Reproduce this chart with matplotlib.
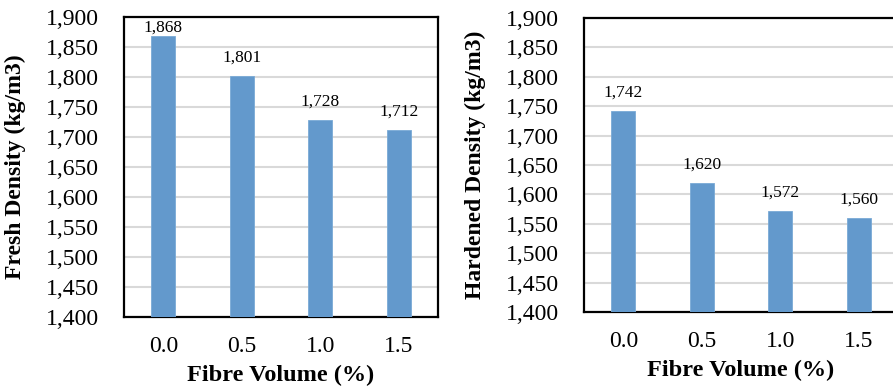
import matplotlib.pyplot as plt
import numpy as np

plt.rcParams['font.family'] = ['Liberation Serif', 'DejaVu Serif']

fibre_volume = ['0.0', '0.5', '1.0', '1.5']
fresh_density = [1868, 1801, 1728, 1712]
hardened_density = [1742, 1620, 1572, 1560]
y_ticks = list(range(1400, 1901, 50))

bar_color = '#6399cc'
grid_color = '#d9d9d9'

W, H = 893, 390
fig = plt.figure(figsize=(W / 100, H / 100), dpi=100)

# axes boxes in pixel units: left, top, right, bottom
boxes = [(124, 17, 438, 317), (584, 18, 898, 312)]
panels = [(fresh_density, 'Fresh Density (kg/m3)', 15),
          (hardened_density, 'Hardened Density (kg/m3)', 475)]

for (l, t, r, b), (vals, ylabel, ylab_x) in zip(boxes, panels):
    ax = fig.add_axes([l / W, 1 - b / H, (r - l) / W, (b - t) / H])
    x = np.arange(len(fibre_volume))
    ax.bar(x, vals, width=0.31, color=bar_color, edgecolor='#7aaad6',
           linewidth=0.6, zorder=3)
    for xi, v in zip(x, vals):
        # keep the label inside the plot area when the bar is tall
        y = min(v + 24, 1875)
        ax.text(xi, y, f'{v:,}', ha='center', va='baseline',
                fontsize=12.5, zorder=4)
    ax.set_xlim(-0.5, len(fibre_volume) - 0.5)
    ax.set_ylim(1400, 1900)
    ax.set_yticks(y_ticks)
    ax.set_yticklabels([f'{v:,}' for v in y_ticks])
    ax.set_xticks(x)
    ax.set_xticklabels(fibre_volume)
    ax.tick_params(axis='y', length=0, pad=18, labelsize=17)
    ax.tick_params(axis='x', length=0, pad=14, labelsize=17)
    ax.grid(axis='y', color=grid_color, linewidth=1.5, zorder=0)
    for s in ax.spines.values():
        s.set_linewidth(1.6)
        s.set_color('black')
    ax.set_xlabel('Fibre Volume (%)', fontsize=17.5, fontweight='bold',
                  labelpad=5)
    fig.text(ylab_x / W, 1 - (t + b) / 2 / H, ylabel, rotation=90,
             ha='center', va='center', fontsize=17, fontweight='bold')

fig.savefig('out.png', dpi=100)
